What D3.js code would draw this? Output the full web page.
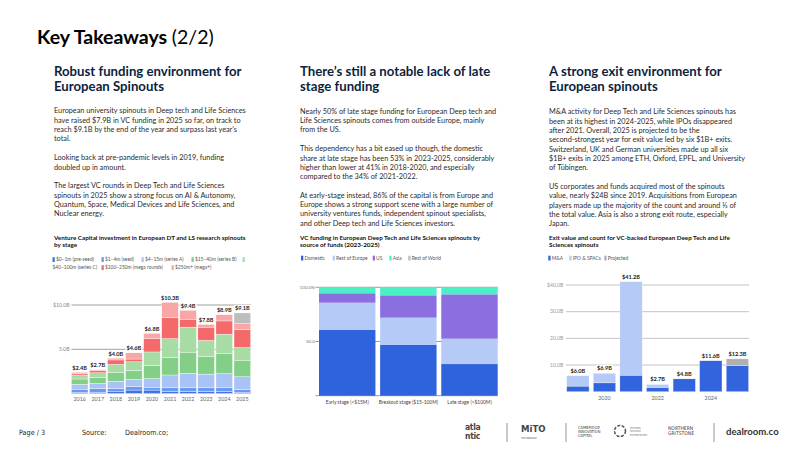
<!DOCTYPE html>
<html><head><meta charset="utf-8">
<script src="https://cdn.jsdelivr.net/npm/d3@7/dist/d3.min.js"></script>
<style>
html,body{margin:0;padding:0;background:#fff;}
svg{display:block;font-family:Lato,"Noto Sans",sans-serif;}
</style></head>
<body><svg id="c" width="800" height="450"></svg>
<script>
// ---------- DATA ----------
const years = ["2016","2017","2018","2019","2020","2021","2022","2023","2024","2025"];
const stageKeys = ["pre","seed","A","B","C","mega","megaplus","proj"];
const stageLabels = ["$0–1m (pre-seed)","$1–4m (seed)","$4–15m (series A)","$15–40m (series B)","$40–100m (series C)","$100–250m (mega rounds)","$250m+ (mega+)"];
const preSeed  = [0.15,0.15,0.20,0.40,0.40,0.25,0.25,0.25,0.25,0.15];
const seed     = [0.35,0.40,0.35,0.40,0.30,0.45,0.45,0.45,0.40,0.30];
const seriesA  = [0.55,0.60,0.85,0.80,1.00,1.40,1.60,1.50,1.60,1.45];
const seriesB  = [0.60,0.65,1.00,1.00,1.50,2.00,2.30,2.00,2.25,1.80];
const seriesC  = [0.45,0.55,0.90,1.00,1.50,2.10,2.90,1.80,2.20,1.50];
const megaRounds=[0.20,0.25,0.50,0.30,1.50,2.40,0.90,1.50,1.50,2.05];
const megaPlus = [0.10,0.10,0.20,0.70,0.60,1.70,1.00,0.30,0.70,0.65];
const projected1=[0,0,0,0,0,0,0,0,0,1.20];
const vcTotals = ["$2.4B","$2.7B","$4.0B","$4.6B","$6.8B","$10.3B","$9.4B","$7.8B","$8.9B","$9.1B"];
const vcTicks = [5,10];
const vcTickLabels = ["5.0B","$10.0B"];

const stages2 = ["Early stage (<$15M)","Breakout stage ($15-100M)","Late stage (>$100M)"];
const sourceKeys = ["Domestic","Rest of Europe","US","Asia","Rest of World"];
const domestic = [60.6,46.8,29.2];
const restEurope=[25.2,25.2,23.4];
const us       = [8.7,20.6,40.9];
const asia     = [5.5,7.4,6.5];
const restWorld= [0,0,0];
const srcTicks = [50,100];
const srcTickLabels = ["50.0","100.0%"];

const exitYears = ["2019","2020","2021","2022","2023","2024","2025"];
const exitKeys = ["M&A","IPO & SPACs","Projected"];
const mna  = [2.1,3.3,6.2,1.6,4.8,11.6,9.75];
const ipo  = [3.9,3.6,35.0,1.1,0,0,0];
const proj3= [0,0,0,0,0,0,2.55];
const exitTotals = ["$6.0B","$6.9B","$41.2B","$2.7B","$4.8B","$11.6B","$12.3B"];
const exitTicks = [10,20,30,40];
const exitTickLabels = ["10.0B","20.0B","30.0B","$40.0B"];
const exitAxisYears = ["2020","2022","2024"];

// ---------- STYLE ----------
const C1 = ["#3f73e6","#6b98f0","#a9c3f7","#84cf87","#a8dca5","#f46a6a","#f8a6a6","#bdbdbd"];
const C2 = ["#2f62dd","#b5caf6","#8b6fe0","#4defc6","#bdbdbd"];
const C3 = ["#3265dd","#b5caf6","#b0b0b0"];
const NAVY = "#0d1f40", BODY = "#2b2b2b";

const svg = d3.select("#c");

// ---------- TEXT ----------
const title = svg.append("text").attr("x",37).attr("y",44).attr("font-size",19.5).attr("fill","#000");
title.append("tspan").attr("font-weight",700).text("Key Takeaways ");
title.append("tspan").attr("font-weight",400).text("(2/2)");

function lines(x, ys, arr, opts){
  arr.forEach((t,i)=>{
    svg.append("text").attr("x",x).attr("y",ys[i])
      .attr("font-size",opts.size).attr("font-weight",opts.weight||400)
      .attr("fill",opts.color).text(t);
  });
}
const HS = 13.2;
lines(54,[76,90.5],["Robust funding environment for","European Spinouts"],{size:HS,weight:700,color:NAVY});
lines(300,[76,90.5],["There’s still a notable lack of late","stage funding"],{size:HS,weight:700,color:NAVY});
lines(549,[76,90.5],["A strong exit environment for","European spinouts"],{size:HS,weight:700,color:NAVY});

const BS = 7.3;
lines(54,[113.3,122.8,132.2,141.4,160.3,169.5,188.3,197.6,206.9,216.2],[
 "European university spinouts in Deep tech and Life Sciences",
 "have raised $7.9B in VC funding in 2025 so far, on track to",
 "reach $9.1B by the end of the year and surpass last year's",
 "total.",
 "Looking back at pre-pandemic levels in 2019, funding",
 "doubled up in amount.",
 "The largest VC rounds in Deep Tech and Life Sciences",
 "spinouts in 2025 show a strong focus on AI & Autonomy,",
 "Quantum, Space, Medical Devices and Life Sciences, and",
 "Nuclear energy."],{size:BS,color:BODY});
lines(300,[113.6,123,132.4,151.3,160.7,170,179.3,197.6,206.9,216.2,225.5],[
 "Nearly 50% of late stage funding for European Deep tech and",
 "Life Sciences spinouts comes from outside Europe, mainly",
 "from the US.",
 "This dependency has a bit eased up though, the domestic",
 "share at late stage has been 53% in 2023-2025, considerably",
 "higher than lower at 41% in 2018-2020, and especially",
 "compared to the 34% of 2021-2022.",
 "At early-stage instead, 86% of the capital is from Europe and",
 "Europe shows a strong support scene with a large number of",
 "university ventures funds, independent spinout specialists,",
 "and other Deep tech and Life Sciences investors."],{size:BS,color:BODY});
lines(549,[114.3,123.6,132.9,142.2,151.6,160.9,170.2,189.1,198.4,207.7,217,226.3],[
 "M&A activity for Deep Tech and Life Sciences spinouts has",
 "been at its highest in 2024-2025, while IPOs disappeared",
 "after 2021. Overall, 2025 is projected to be the",
 "second-strongest year for exit value led by six $1B+ exits.",
 "Switzerland, UK and German universities made up all six",
 "$1B+ exits in 2025 among ETH, Oxford, EPFL, and University",
 "of Tübingen.",
 "US corporates and funds acquired most of the spinouts",
 "value, nearly $24B since 2019. Acquisitions from European",
 "players made up the majority of the count and around ⅓ of",
 "the total value. Asia is also a strong exit route, especially",
 "Japan."],{size:BS,color:BODY});

const CS = 6.3;
lines(54,[240,247],["Venture Capital investment in European DT and LS research spinouts","by stage"],{size:CS,weight:700,color:"#111"});
lines(300,[240,247],["VC funding in European Deep Tech and Life Sciences spinouts by","source of funds (2023-2025)"],{size:CS,weight:700,color:"#111"});
lines(549,[240,247],["Exit value and count for VC-backed European Deep Tech and Life","Sciences spinouts"],{size:CS,weight:700,color:"#111"});

// legends
const LS = 4.9;
function legendItem(x,y,color,label){
  svg.append("rect").attr("x",x).attr("y",y-4.1).attr("width",2.3).attr("height",4.8).attr("fill",color);
  if(label) svg.append("text").attr("x",x+3.4).attr("y",y).attr("font-size",LS).attr("fill","#555").text(label);
}
legendItem(52.5,261.3,C1[0],stageLabels[0]);
legendItem(101.5,261.3,C1[1],stageLabels[1]);
legendItem(141.5,261.3,C1[2],stageLabels[2]);
legendItem(191.5,261.3,C1[3],stageLabels[3]);
legendItem(242.5,261.3,C1[4],null);
svg.append("text").attr("x",52.5).attr("y",269.3).attr("font-size",LS).attr("fill","#555").text(stageLabels[4]);
legendItem(101.5,269.3,C1[5],stageLabels[5]);
legendItem(171.5,269.3,C1[6],stageLabels[6]);

const leg2x=[301,332.7,372.7,389.3,408.3];
sourceKeys.forEach((k,i)=>legendItem(leg2x[i],259.8,C2[i],k));
const leg3x=[548.3,569.3,604.3];
exitKeys.forEach((k,i)=>legendItem(leg3x[i],259.8,C3[i],k));

function valueLabel(g,cx,cy,txt){
  const lg = g.append("g");
  const r = lg.append("rect").attr("fill","#fff");
  const t = lg.append("text").attr("x",cx).attr("y",cy+2).attr("text-anchor","middle")
    .attr("font-size",5.6).attr("font-weight",700).attr("fill","#222").text(txt);
  const w = t.node().getComputedTextLength();
  r.attr("x",cx-w/2-1.2).attr("y",cy-3.5).attr("width",w+2.4).attr("height",7);
}

// ---------- CHART 1 ----------
const rows1 = years.map((y,i)=>({year:y,pre:preSeed[i],seed:seed[i],A:seriesA[i],B:seriesB[i],C:seriesC[i],mega:megaRounds[i],megaplus:megaPlus[i],proj:projected1[i]}));
const x1 = d3.scaleBand().domain(years).range([71,251]).paddingInner(0.08).paddingOuter(0.02);
const y1 = d3.scaleLinear().domain([0,10]).range([393.6,305]);
const g1 = svg.append("g");
g1.selectAll("line.grid").data(vcTicks).join("line")
  .attr("x1",71.5).attr("x2",251).attr("y1",d=>y1(d)).attr("y2",d=>y1(d))
  .attr("stroke","#777").attr("stroke-width",0.7);
g1.selectAll("text.yt").data(vcTicks).join("text")
  .attr("x",69.5).attr("y",d=>y1(d)+1.8).attr("text-anchor","end")
  .attr("font-size",5.2).attr("fill","#888").text((d,i)=>vcTickLabels[i]);
const st1 = d3.stack().keys(stageKeys)(rows1);
g1.selectAll("g.s").data(st1).join("g").attr("fill",(d,i)=>C1[i])
  .selectAll("rect").data(d=>d).join("rect")
  .attr("x",d=>x1(d.data.year)).attr("width",x1.bandwidth())
  .attr("y",d=>y1(d[1])).attr("height",d=>Math.max(0,y1(d[0])-y1(d[1])))
  .attr("stroke","#fff").attr("stroke-width",0.35);
const xa1 = g1.append("g").attr("transform","translate(0,393.6)")
  .call(d3.axisBottom(x1).tickSize(0).tickPadding(4));
xa1.select(".domain").remove();
xa1.selectAll("text").attr("font-size",5.4).attr("fill","#666").attr("font-family","Lato");
const tot1 = rows1.map(r=>stageKeys.reduce((s,k)=>s+r[k],0));
years.forEach((yr,i)=>valueLabel(g1, x1(yr)+x1.bandwidth()/2, y1(tot1[i])-4.6, vcTotals[i]));

// ---------- CHART 2 ----------
const rows2 = stages2.map((s,i)=>({stage:s,"Domestic":domestic[i],"Rest of Europe":restEurope[i],"US":us[i],"Asia":asia[i],"Rest of World":restWorld[i]}));
const x2 = d3.scaleBand().domain(stages2).range([319,497.7]).paddingInner(0.077).paddingOuter(0);
const y2 = d3.scaleLinear().domain([0,100]).range([395.7,287.3]);
const g2 = svg.append("g");
g2.selectAll("line.grid").data([0].concat(srcTicks)).join("line")
  .attr("x1",315.5).attr("x2",497.7).attr("y1",d=>y2(d)).attr("y2",d=>y2(d))
  .attr("stroke","#555").attr("stroke-width",0.6);
g2.selectAll("text.yt").data(srcTicks).join("text")
  .attr("x",315).attr("y",d=>y2(d)+1.5).attr("text-anchor","end")
  .attr("font-size",4.6).attr("fill","#777").text((d,i)=>srcTickLabels[i]);
const st2 = d3.stack().keys(sourceKeys)(rows2);
g2.selectAll("g.s").data(st2).join("g").attr("fill",(d,i)=>C2[i])
  .selectAll("rect").data(d=>d).join("rect")
  .attr("x",d=>x2(d.data.stage)).attr("width",x2.bandwidth())
  .attr("y",d=>y2(d[1])).attr("height",d=>Math.max(0,y2(d[0])-y2(d[1])));
const xa2 = g2.append("g").attr("transform","translate(0,395.7)")
  .call(d3.axisBottom(x2).tickSize(0).tickPadding(5));
xa2.select(".domain").remove();
xa2.selectAll("text").attr("font-size",4.9).attr("fill","#444").attr("font-family","Lato");

// ---------- CHART 3 ----------
const rows3 = exitYears.map((y,i)=>({year:y,"M&A":mna[i],"IPO & SPACs":ipo[i],"Projected":proj3[i]}));
const x3 = d3.scaleBand().domain(exitYears).range([566.2,749.1]).paddingInner(0.16).paddingOuter(0.02);
const y3 = d3.scaleLinear().domain([0,40]).range([391.7,285]);
const g3 = svg.append("g");
g3.selectAll("line.grid").data(exitTicks).join("line")
  .attr("x1",566).attr("x2",749).attr("y1",d=>y3(d)).attr("y2",d=>y3(d))
  .attr("stroke","#aaa").attr("stroke-width",0.7);
g3.selectAll("text.yt").data(exitTicks).join("text")
  .attr("x",563.3).attr("y",d=>y3(d)+1.7).attr("text-anchor","end")
  .attr("font-size",5.1).attr("fill","#999").text((d,i)=>exitTickLabels[i]);
const st3 = d3.stack().keys(exitKeys)(rows3);
g3.selectAll("g.s").data(st3).join("g").attr("fill",(d,i)=>C3[i])
  .selectAll("rect").data(d=>d).join("rect")
  .attr("x",d=>x3(d.data.year)).attr("width",x3.bandwidth())
  .attr("y",d=>y3(d[1])).attr("height",d=>Math.max(0,y3(d[0])-y3(d[1])))
  .attr("stroke","#fff").attr("stroke-width",0.3);
const xa3 = g3.append("g").attr("transform","translate(0,391.7)")
  .call(d3.axisBottom(x3).tickValues(exitAxisYears).tickSize(0).tickPadding(4.5));
xa3.select(".domain").remove();
xa3.selectAll("text").attr("font-size",5.4).attr("fill","#666").attr("font-family","Lato");
const tot3 = rows3.map(r=>exitKeys.reduce((s,k)=>s+r[k],0));
exitYears.forEach((yr,i)=>valueLabel(g3, x3(yr)+x3.bandwidth()/2, y3(tot3[i])-5, exitTotals[i]));

// ---------- FOOTER ----------
const ff = "'DejaVu Sans Condensed','DejaVu Sans',sans-serif";
[["Page / 3",19],["Source:",82],["Dealroom.co;",125]].forEach(([t,x])=>{
  svg.append("text").attr("x",x).attr("y",435).attr("font-size",7.2).attr("font-family",ff).attr("fill","#222").text(t);
});
// partner marks (text approximations)
const ft = svg.append("g").attr("fill","#444").attr("font-family",ff);
ft.append("text").attr("x",465).attr("y",430).attr("font-size",8.5).attr("font-weight",700).attr("letter-spacing",-0.3).text("atla");
ft.append("text").attr("x",465).attr("y",438.5).attr("font-size",8.5).attr("font-weight",700).attr("letter-spacing",-0.3).text("ntic");
[507,566,714].forEach(x=>svg.append("line").attr("x1",x).attr("x2",x).attr("y1",423).attr("y2",442).attr("stroke","#666").attr("stroke-width",0.7));
ft.append("text").attr("x",521).attr("y",432).attr("font-size",9.5).attr("font-weight",700).text("MiTO");
ft.append("text").attr("x",521).attr("y",439).attr("font-size",2.6).text("TECHNOLOGY");
["CAMBRIDGE","INNOVATION","CAPITAL"].forEach((t,i)=>ft.append("text").attr("x",578).attr("y",428.5+i*4.2).attr("font-size",4).text(t));
svg.append("circle").attr("cx",620).attr("cy",431).attr("r",5.5).attr("fill","none").attr("stroke","#555").attr("stroke-width",1.5).attr("stroke-dasharray","3 1.5");
["OXFORD","SCIENCE","ENTERPRISES"].forEach((t,i)=>ft.append("text").attr("x",630).attr("y",429+i*3.3).attr("font-size",2.8).attr("fill","#777").text(t));
["NORTHERN","GRITSTONE"].forEach((t,i)=>ft.append("text").attr("x",668).attr("y",429.5+i*5).attr("font-size",5).text(t));
svg.append("text").attr("x",726).attr("y",435).attr("font-size",9.6).attr("font-weight",700).attr("font-family","Lato").attr("fill","#333").text("dealroom.co");
</script></body></html>
